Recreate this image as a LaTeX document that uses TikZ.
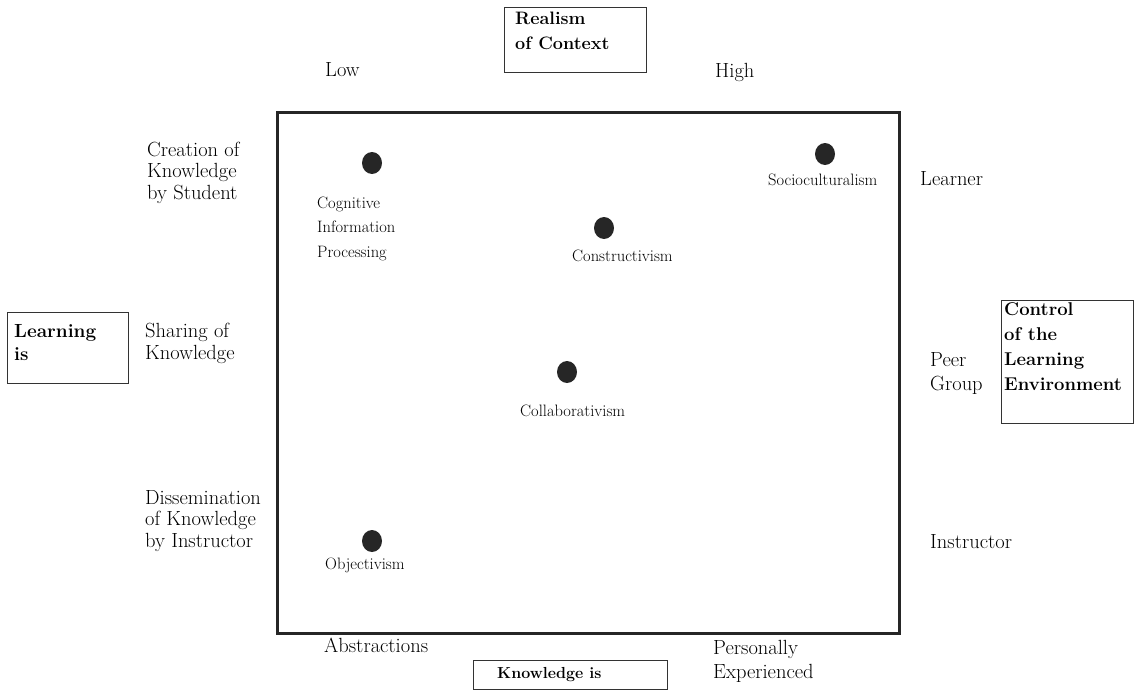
\documentclass[tikz,border=0pt]{standalone}
\usepackage{fontspec}
\usepackage{tikz}
\usetikzlibrary{shapes.geometric}

\begin{document}
\begin{tikzpicture}[%
x=1pt, y=-1pt,
every node/.style={inner sep=0pt},
lbl/.style={font=\fontsize{20.5}{21.5}\selectfont, align=left, anchor=base west},
theory/.style={font=\fontsize{16.5}{24.5}\selectfont, align=left, anchor=base west},
boxlbl/.style={font=\bfseries\fontsize{18.5}{25}\selectfont, align=left, anchor=base west},
box/.style={draw=black!80, line width=1pt, anchor=north west},
dot/.style={ellipse, fill=black!85, minimum width=20, minimum height=22},
frame/.style={draw=black!85, line width=3pt}
]
\useasboundingbox (0,0) rectangle (1137,690);

% the plane
\draw[frame] (277,113) rectangle (899,633);

% top: realism of context (base = last line)
\node[box, minimum width=142, minimum height=65] (realism) at (504,7) {};
\node[boxlbl, font=\bfseries\fontsize{18}{25}\selectfont] (realismtxt)
     at ([shift={(11,43)}] realism.north west) {Realism\\of Context};
\node[lbl] (low)  at (325,77) {Low};
\node[lbl] (high) at (715,78) {High};

% left: learning is
\node[box, minimum width=121, minimum height=71] (learning) at (7,312) {};
\node[boxlbl, font=\bfseries\fontsize{19}{23}\selectfont] (learningtxt)
     at ([shift={(7,48)}] learning.north west) {Learning\\is};
\node[lbl] (creation) at (147,199) {Creation of\\Knowledge\\by Student};
\node[lbl] (sharing)  at (145,359) {Sharing of\\Knowledge};
\node[lbl] (dissem)   at (145,547) {Dissemination\\of Knowledge\\by Instructor};

% right: control of the learning environment
\node[box, minimum width=132, minimum height=123] (control) at (1001,300) {};
\node[boxlbl] (controltxt)
     at ([shift={(3,90)}] control.north west) {Control\\of the\\Learning\\Environment};
\node[lbl] (learner)    at (920,185) {Learner};
\node[lbl, font=\fontsize{20.5}{24}\selectfont] (peer) at (930,390) {Peer\\Group};
\node[lbl] (instructor) at (930,548) {Instructor};

% bottom: knowledge is
\node[box, minimum width=194, minimum height=29] (knowledge) at (473,660) {};
\node[boxlbl, font=\bfseries\fontsize{16}{20}\selectfont] (knowledgetxt)
     at ([shift={(24,18)}] knowledge.north west) {Knowledge is};
\node[lbl] (abstr)    at (324,652) {Abstractions};
\node[lbl, font=\fontsize{20.5}{24}\selectfont] (personal) at (713,678) {Personally\\Experienced};

% theories
\node[dot] (cip)    at (372,163) {};
\node[dot] (socio)  at (825,154) {};
\node[dot] (constr) at (604,228) {};
\node[dot] (collab) at (567,372) {};
\node[dot] (objec)  at (372,541) {};

\node[theory] (ciptxt)    at (317,257) {Cognitive\\Information\\Processing};
\node[theory] (sociotxt)  at (768,185) {Socioculturalism};
\node[theory] (constrtxt) at (572,261) {Constructivism};
\node[theory] (collabtxt) at (520,416) {Collaborativism};
\node[theory] (objectxt)  at (325,569) {Objectivism};
\end{tikzpicture}
\end{document}
